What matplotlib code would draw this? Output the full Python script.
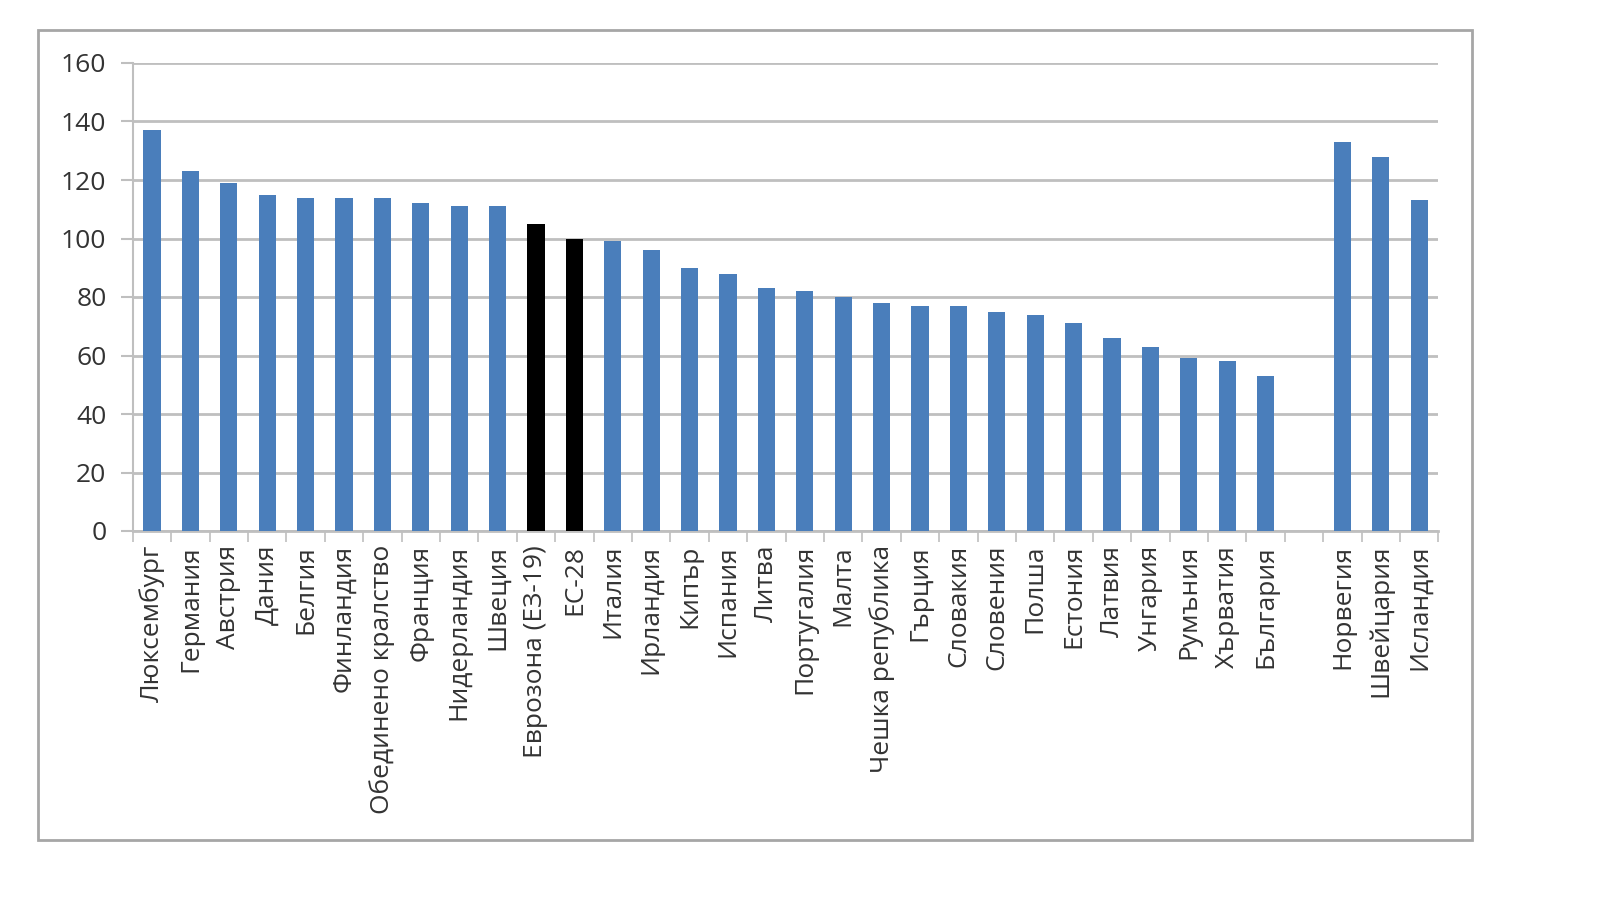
import matplotlib
matplotlib.use("Agg")
import matplotlib.pyplot as plt
from matplotlib.patches import Rectangle
import numpy as np

plt.rcParams['font.family'] = ['Open Sans', 'DejaVu Sans']

categories = ["Люксембург", "Германия", "Австрия", "Дания", "Белгия", "Финландия",
              "Обединено кралство", "Франция", "Нидерландия", "Швеция",
              "Еврозона (ЕЗ-19)", "ЕС-28", "Италия", "Ирландия", "Кипър", "Испания",
              "Литва", "Португалия", "Малта", "Чешка република", "Гърция", "Словакия",
              "Словения", "Полша", "Естония", "Латвия", "Унгария", "Румъния",
              "Хърватия", "България", "", "Норвегия", "Швейцария", "Исландия"]
values = [137, 123, 119, 115, 114, 114, 114, 112, 111, 111,
          105, 100, 99, 96, 90, 88, 83, 82, 80, 78, 77, 77,
          75, 74, 71, 66, 63, 59, 58, 53, np.nan, 133, 128, 113]
highlight = ["Еврозона (ЕЗ-19)", "ЕС-28"]
yticks = [0, 20, 40, 60, 80, 100, 120, 140, 160]

blue = "#4A7EBB"
fig = plt.figure(figsize=(16, 9), dpi=100)
fig.patch.set_facecolor("white")

# outer frame
fig.patches.append(Rectangle((0.024, 0.067), 0.896, 0.900, transform=fig.transFigure,
                             fill=False, edgecolor="#A6A6A6", linewidth=2))

ax = fig.add_axes([0.083, 0.410, 0.816, 0.520])
x = np.arange(len(categories))
colors = ["black" if c in highlight else blue for c in categories]
vals = [0 if np.isnan(v) else v for v in values]
ax.bar(x, vals, width=0.45, color=colors, zorder=3)

ax.set_xlim(-0.5, len(categories) - 0.5)
ax.set_ylim(0, 160)
ax.set_yticks(yticks)
ax.set_yticklabels([str(t) for t in yticks], fontsize=19, color="#333333")
ax.yaxis.grid(True, color="#BFBFBF", linewidth=2, zorder=0)
ax.tick_params(axis="y", length=9, width=1.5, color="#BFBFBF", pad=10)

ax.set_xticks(x)
ax.set_xticklabels(categories, rotation=90, fontsize=19, color="#333333", va="top")
ax.tick_params(axis="x", length=0, pad=10)
ax.set_xticks(np.arange(-0.5, len(categories), 1), minor=True)
ax.tick_params(axis="x", which="minor", length=8, width=1.2, color="#BFBFBF")

for s in ["top", "right"]:
    ax.spines[s].set_visible(False)
ax.spines["left"].set_color("#BFBFBF")
ax.spines["left"].set_linewidth(1.5)
ax.spines["bottom"].set_color("#BFBFBF")
ax.spines["bottom"].set_linewidth(2)

fig.savefig("out.png", dpi=100, facecolor="white")
